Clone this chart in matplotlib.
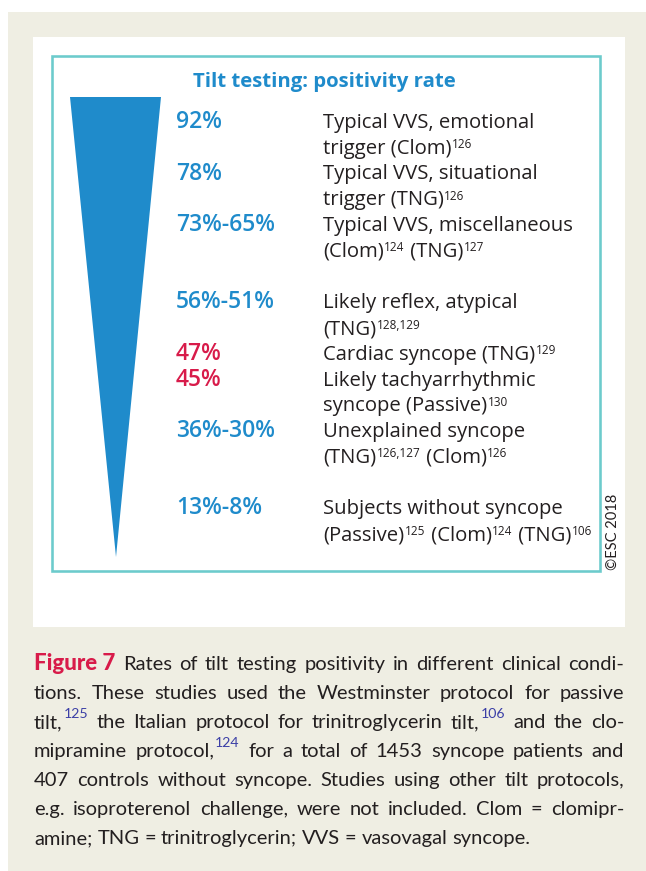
"""
Tilt testing positivity rate infographic (ESC 2018, Figure 7) redrawn with matplotlib.
Whole figure is one pixel-space axes (y down) so layout can be read straight off the reference.
"""
import re

import matplotlib
matplotlib.use("Agg")
import matplotlib.pyplot as plt
from matplotlib.patches import Rectangle, Polygon

# ---- content -------------------------------------------------------------
TITLE = "Tilt testing: positivity rate"
rates = ["92%", "78%", "73%-65%", "56%-51%", "47%", "45%", "36%-30%", "13%-8%"]
highlight = [False, False, False, False, True, True, False, False]   # red rows
descriptions = [
    ["Typical VVS, emotional", "trigger (Clom)^126"],
    ["Typical VVS, situational", "trigger (TNG)^126"],
    ["Typical VVS, miscellaneous", "(Clom)^124 (TNG)^127"],
    ["Likely reflex, atypical", "(TNG)^128,129"],
    ["Cardiac syncope (TNG)^129"],
    ["Likely tachyarrhythmic", "syncope (Passive)^130"],
    ["Unexplained syncope", "(TNG)^126,127 (Clom)^126"],
    ["Subjects without syncope", "(Passive)^125 (Clom)^124 (TNG)^106"],
]
# blank line inserted before these rows
gap_before = [0, 0, 0, 1, 0, 0, 0, 1]

FIG_LABEL = "Figure 7"
caption_lines = [
    "Rates of tilt testing positivity in different clinical condi-",
    "tions. These studies used the Westminster protocol for passive",
    "tilt,^125 the Italian protocol for trinitroglycerin tilt,^106 and the clo-",
    "mipramine protocol,^124 for a total of 1453 syncope patients and",
    "407 controls without syncope. Studies using other tilt protocols,",
    "e.g. isoproterenol challenge, were not included. Clom = clomipr-",
    "amine; TNG = trinitroglycerin; VVS = vasovagal syncope.",
]
COPYRIGHT = "\u00a9ESC 2018"

# ---- style ---------------------------------------------------------------
BLUE = "#1f8bcb"
RED = "#d81b4a"
TEAL = "#6ccbcc"
BEIGE = "#efeee3"
INK = "#231f20"
SUPBLUE = "#3b3fa6"
INFO_FONT = "Open Sans"
CAP_FONT = "Lato"

plt.rcParams["font.family"] = [INFO_FONT, "DejaVu Sans"]

W, H = 646, 871
fig = plt.figure(figsize=(W / 100, H / 100), dpi=100)
ax = fig.add_axes([0, 0, 1, 1])
ax.set_xlim(0, W); ax.set_ylim(H, 0); ax.axis("off")
renderer = fig.canvas.get_renderer()


def width_of(t):
    return t.get_window_extent(renderer).width


def fit_size(s, target_px, **kw):
    """font size that makes string s about target_px wide"""
    t = ax.text(0, 0, s, fontsize=10, **kw)
    w = width_of(t)
    t.remove()
    return 10 * target_px / w


# backgrounds
ax.add_patch(Rectangle((8, 12), W - 8, H - 12, color=BEIGE, lw=0))
ax.add_patch(Rectangle((33, 37), 592, 590, color="white", lw=0))
ax.add_patch(Rectangle((52, 56), 548, 515, fill=False, ec=TEAL, lw=2.6 * 0.72))

# wedge
ax.add_patch(Polygon([(70, 97), (161, 97), (116, 557)], closed=True, color=BLUE, lw=0))

title_fs = fit_size(TITLE, 265, fontweight="bold")
ax.text(193, 87, TITLE, ha="left", va="baseline", fontsize=title_fs,
        fontweight="bold", color=BLUE)

rate_fs = fit_size("73%-65%", 100, fontweight="semibold")
desc_fs = fit_size("Typical VVS, emotional", 212)


def rich_line(x, y, s, fs):
    """draw text with ^123 superscript refs, left-aligned at baseline y"""
    for chunk in re.split(r"(\^[\d,]+)", s):
        if not chunk:
            continue
        if chunk.startswith("^"):
            t = ax.text(x + 0.5, y - 5.5, chunk[1:], fontsize=fs * 0.58,
                        color=INK, va="baseline")
            x += width_of(t) + 1.0
        else:
            t = ax.text(x, y, chunk, fontsize=fs, color=INK, va="baseline")
            x += width_of(t)


# rows
y0, step = 128, 25.75
slot = 0
for rate, red, desc, gap in zip(rates, highlight, descriptions, gap_before):
    slot += gap
    y = y0 + slot * step
    ax.text(176, y, rate, ha="left", va="baseline", fontsize=rate_fs,
            fontweight="semibold", color=RED if red else BLUE)
    for k, line in enumerate(desc):
        rich_line(323, y + k * step, line, desc_fs)
    slot += len(desc)

ax.text(613, 532, COPYRIGHT, rotation=90, ha="center", va="center",
        fontsize=10.5, color=INK, family=CAP_FONT)


# caption, justified word by word
CAP_X0, CAP_X1 = 34, 624
CAP_Y0, CAP_STEP = 670, 29
CAP_FS = 14.5


def make_word(word):
    """Return list of (Text, dx, dy) and total width for a word (may carry ^sup)."""
    parts = []
    if word == FIG_LABEL:
        t = ax.text(0, 0, word, fontsize=16, fontweight="black", color=RED,
                    va="baseline", family=CAP_FONT)
        parts.append((t, 0, 0))
    else:
        main, _, sup = word.partition("^")
        t = ax.text(0, 0, main, fontsize=CAP_FS, color=INK, va="baseline",
                    family=CAP_FONT)
        parts.append((t, 0, 0))
        if sup:
            s = ax.text(0, 0, sup, fontsize=CAP_FS * 0.7, color=SUPBLUE,
                        va="baseline", family=CAP_FONT)
            parts.append((s, width_of(t) + 1.0, -10))
    width = max(dx + width_of(p) for p, dx, _ in parts)
    return parts, width


for i, line in enumerate(caption_lines):
    y = CAP_Y0 + i * CAP_STEP
    words = line.split(" ")
    if i == 0:
        words = [FIG_LABEL] + words
    built = [make_word(w) for w in words]
    total = sum(w for _, w in built)
    last = i == len(caption_lines) - 1
    gap = 5.0 if last else (CAP_X1 - CAP_X0 - total) / (len(built) - 1)
    x = CAP_X0
    for parts, w in built:
        for t, dx, dy in parts:
            t.set_position((x + dx, y + dy))
        x += w + gap

fig.savefig("out.png", dpi=100, facecolor="white")
